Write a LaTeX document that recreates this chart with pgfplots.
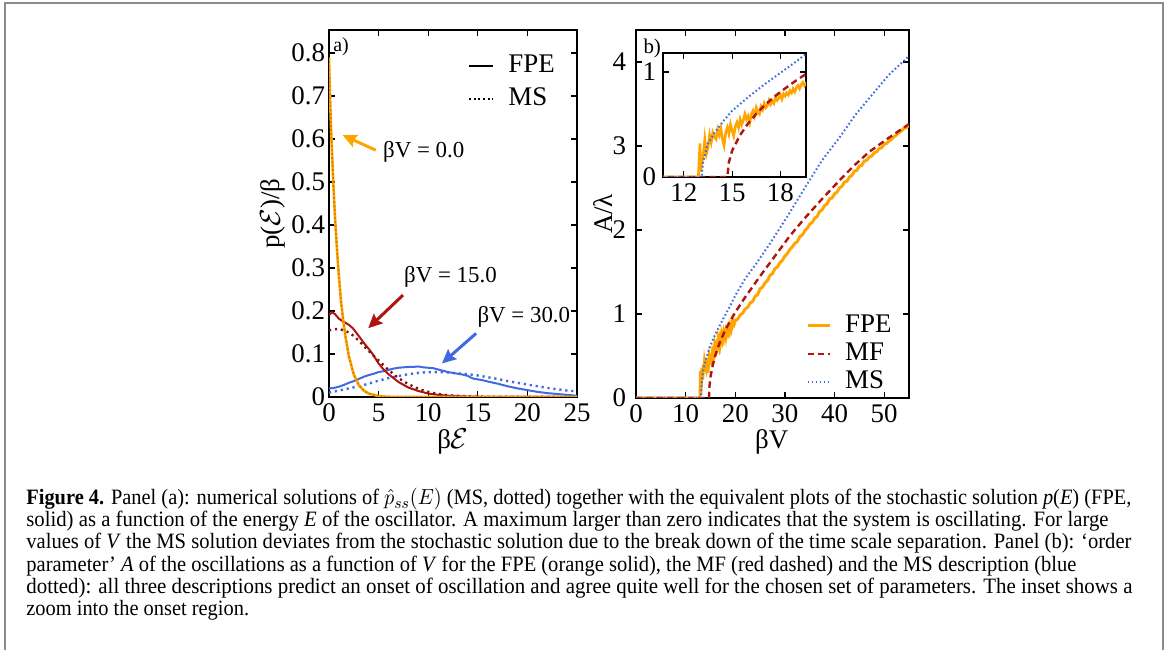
\documentclass[border=0pt]{standalone}
\usepackage{pgfplots}
\pgfplotsset{compat=1.18}
\usepackage{pgfplotstable}
\usepackage{graphicx}
\usepackage{fontspec}
\setmainfont{Liberation Serif}
\usetikzlibrary{arrows.meta}
\definecolor{cOr}{RGB}{255,165,0}
\definecolor{cOrD}{RGB}{205,125,0}
\definecolor{cRed}{RGB}{175,20,15}
\definecolor{cRedD}{RGB}{125,20,20}
\definecolor{cBlue}{RGB}{65,105,225}
\definecolor{cFrame}{RGB}{140,140,140}
\newcommand\tickfont{\fontsize{13.5}{15}\selectfont}
\newcommand\labfont{\fontsize{13.5}{15}\selectfont}
\newcommand\legfont{\fontsize{13.5}{15}\selectfont}
\newcommand\annfont{\fontsize{11.5}{13}\selectfont}
\newcommand\capfont{\fontsize{11}{12}\selectfont}
\newlength\capw
\def\capA{\textbf{Figure 4.} Panel (a): numerical solutions of $\hat{p}_{ss}(E)$ (MS, dotted) together with the equivalent plots of the stochastic solution \textit{p}(\textit{E}) (FPE,}
\def\capB{solid) as a function of the energy \textit{E} of the oscillator. A maximum larger than zero indicates that the system is oscillating. For large}
\def\capC{values of \textit{V} the MS solution deviates from the stochastic solution due to the break down of the time scale separation. Panel (b): ‘order}
\def\capD{parameter’ \textit{A} of the oscillations as a function of \textit{V} for the FPE (orange solid), the MF (red dashed) and the MS description (blue}
\def\capE{dotted): all three descriptions predict an onset of oscillation and agree quite well for the chosen set of parameters. The inset shows a}
\def\capF{zoom into the onset region.}

\pgfplotstableread{
V A
0 0
12.9 0
13.0 0.32
13.05 0.05
13.1 0.12
13.2 0.2
13.3 0.36
13.4 0.22
13.5 0.28
13.6 0.4
13.7 0.33
13.8 0.42
13.9 0.38
14.0 0.36
14.1 0.45
14.2 0.4
14.3 0.46
14.4 0.36
14.5 0.3
14.6 0.42
14.7 0.47
14.8 0.41
14.9 0.5
15.0 0.44
15.1 0.39
15.2 0.48
15.3 0.52
15.4 0.47
15.5 0.55
15.6 0.5
15.7 0.54
15.8 0.6
15.9 0.55
16.0 0.58
16.1 0.52
16.2 0.6
16.3 0.63
16.4 0.58
16.5 0.66
16.6 0.62
16.7 0.6
16.8 0.67
16.9 0.64
17.0 0.7
17.1 0.66
17.2 0.68
17.3 0.73
17.4 0.69
17.5 0.72
17.6 0.7
17.7 0.76
17.8 0.73
17.9 0.75
18.0 0.78
18.1 0.74
18.2 0.79
18.3 0.77
18.4 0.8
18.5 0.78
18.6 0.82
18.7 0.8
18.8 0.84
18.9 0.81
19.0 0.85
19.1 0.87
19.2 0.84
19.3 0.88
19.4 0.9
19.5 0.87
19.6 0.89
19.7 0.88
19.8 0.91
19.9 0.9
20.0 0.92
20.5 0.94
21 0.99
21.5 1.01
22 1.06
22.5 1.08
23 1.13
23.5 1.15
24 1.21
24.5 1.23
25 1.3
25.5 1.32
26 1.37
26.5 1.4
27 1.46
27.5 1.48
28 1.54
28.5 1.56
29 1.61
29.5 1.64
30 1.69
30.5 1.72
31 1.77
31.5 1.8
32 1.84
32.5 1.86
33 1.92
33.5 1.94
34 1.99
34.5 2.02
35 2.07
35.5 2.09
36 2.14
36.5 2.16
37 2.22
37.5 2.24
38 2.29
38.5 2.31
39 2.37
39.5 2.38
40 2.43
40.5 2.45
41 2.5
41.5 2.52
42 2.57
42.5 2.58
43 2.63
43.5 2.65
44 2.7
44.5 2.71
45 2.76
45.5 2.77
46 2.82
46.5 2.83
47 2.87
47.5 2.88
48 2.92
48.5 2.93
49 2.97
49.5 2.98
50 3.02
50.5 3.03
51 3.06
51.5 3.08
52 3.11
52.5 3.13
53 3.16
53.5 3.18
54 3.21
54.5 3.22
55 3.25
}\fpe

\pgfplotstableread{
V A
0 0
14.7 0
14.8 0.14
15 0.25
15.5 0.4
16 0.51
16.5 0.6
17 0.68
18 0.81
19 0.92
20 1.02
22 1.2
25 1.45
28 1.69
31 1.93
34 2.14
37.5 2.37
41 2.59
44 2.77
47 2.93
51 3.1
55 3.26
}\mf

\pgfplotstableread{
V A
0 0
13.1 0
13.2 0.15
13.5 0.32
14 0.44
14.5 0.54
15 0.63
16 0.76
17 0.88
18 0.99
19 1.1
20 1.22
22 1.42
24 1.58
27 1.84
30.7 2.18
34 2.5
37.5 2.83
41 3.1
44.2 3.37
48 3.64
51 3.85
55 4.07
}\ms

\pgfplotsset{
 myax/.style={scale only axis, axis line style={line width=0.75bp}, every tick/.style={line width=0.6bp,black}, major tick length=3bp, tick align=inside, tick label style={font=\tickfont}, /pgf/number format/assume math mode=true, label style={font=\labfont}, clip=true},
}

\begin{document}
\settowidth{\capw}{\capfont\capA}%
\pgfmathsetmacro{\capscale}{554.57/\capw}%
\begin{tikzpicture}
\useasboundingbox (0,0) rectangle (584bp,325bp);
% frame
\draw[cFrame, line width=1bp] (2.5bp,-2bp) -- (2.5bp,323.5bp) -- (581.5bp,323.5bp) -- (581.5bp,-2bp);

% ---------- panel a ----------
\begin{axis}[myax, at={(164.5bp,126.5bp)}, anchor=south west, width=124bp, height=183.5bp,
 xmin=0, xmax=25, ymin=0, ymax=0.8535,
 xtick={0,5,10,15,20,25}, ytick={0,0.1,0.2,0.3,0.4,0.5,0.6,0.7,0.8},
 yticklabels={0,0.1,0.2,0.3,0.4,0.5,0.6,0.7,0.8},
 yticklabel style={xshift=1.5bp},
 xlabel={β$\mathcal{E}$}, ylabel={p($\mathcal{E}$)/β},
 xlabel style={at={(axis description cs:0.5,-0.122)}, anchor=center},
 ylabel style={at={(axis description cs:-0.226,0.5)}, anchor=center},
 legend style={at={(rel axis cs:0.535,0.95)}, anchor=north west, draw=none, fill=none, font=\legfont, row sep=3bp, column sep=6bp, nodes={inner sep=1bp, text height=9bp, text depth=2.5bp}},
 legend cell align=left,
 legend image code/.code={\draw[#1] (0bp,0bp) -- (12bp,0bp);},
]
\addlegendimage{black, line width=1.2bp}
\addlegendentry{FPE}
\addlegendimage{black, line width=1.1bp, dash pattern=on 1bp off 1.3bp}
\addlegendentry{MS}

% beta V = 30
\addplot[forget plot, cBlue, line width=1bp] coordinates {(0,0.02)(0.5,0.021)(1,0.024)(1.5,0.028)(2,0.033)(2.5,0.037)(3,0.042)(3.5,0.047)(4,0.051)(4.5,0.054)(5,0.058)(5.5,0.06)(6,0.063)(6.5,0.066)(7,0.068)(7.5,0.069)(8,0.07)(8.5,0.07)(9,0.071)(9.5,0.069)(10,0.068)(10.5,0.067)(11,0.064)(11.5,0.061)(12,0.058)(12.5,0.056)(13,0.054)(13.5,0.052)(14,0.049)(14.5,0.043)(15,0.041)(15.5,0.039)(16,0.036)(17,0.031)(18,0.025)(19,0.02)(20,0.016)(21,0.012)(22,0.009)(23,0.007)(24,0.005)(25,0.003)};
\addplot[forget plot, cBlue, line width=1.2bp, dash pattern=on 1.1bp off 1.9bp] coordinates {(0,0.01)(1,0.015)(2,0.02)(3,0.025)(4,0.031)(5,0.038)(6,0.044)(7,0.049)(8,0.053)(9,0.056)(10,0.058)(11,0.058)(12,0.057)(13,0.055)(14,0.053)(15,0.05)(16,0.046)(17,0.042)(18,0.037)(19,0.033)(20,0.029)(21,0.025)(22,0.021)(23,0.018)(24,0.015)(25,0.013)};
% beta V = 15
\addplot[forget plot, cRed, line width=1bp] coordinates {(0,0.19)(0.3,0.197)(0.6,0.193)(1.0,0.182)(1.4,0.176)(2.0,0.168)(2.4,0.16)(3.0,0.142)(3.5,0.126)(4.0,0.112)(4.4,0.1)(5.0,0.078)(5.5,0.064)(6.0,0.053)(7.0,0.035)(8.0,0.022)(9.0,0.014)(10,0.008)(11,0.005)(12,0.003)(14,0.001)(16,0.0003)(25,0)};
\addplot[forget plot, cRedD, line width=1.2bp, dash pattern=on 1.1bp off 1.9bp] coordinates {(0,0.155)(0.5,0.158)(1.0,0.158)(1.5,0.155)(2.0,0.15)(2.5,0.142)(3.0,0.131)(3.5,0.119)(4.0,0.107)(4.5,0.096)(5.0,0.085)(5.5,0.074)(6.0,0.063)(7.0,0.044)(8.0,0.03)(9.0,0.019)(10,0.012)(11,0.007)(12,0.004)(14,0.0015)(16,0.0005)(25,0)};
% beta V = 0
\addplot[forget plot, cOr, line width=1.3bp] coordinates {(0,0.79)(0.05,0.74)(0.1,0.70)(0.2,0.63)(0.3,0.57)(0.45,0.49)(0.6,0.42)(0.8,0.345)(1.0,0.28)(1.2,0.225)(1.45,0.175)(1.7,0.135)(2.0,0.095)(2.5,0.052)(3.0,0.028)(3.5,0.015)(4.0,0.008)(5,0.002)(6,0.0005)(8,0)(25,0)};
\addplot[forget plot, cOrD, line width=0.8bp, dash pattern=on 0.8bp off 1.2bp] coordinates {(0,0.79)(0.05,0.74)(0.1,0.70)(0.2,0.63)(0.3,0.57)(0.45,0.49)(0.6,0.42)(0.8,0.345)(1.0,0.28)(1.2,0.225)(1.45,0.175)(1.7,0.135)(2.0,0.095)(2.5,0.052)(3.0,0.028)(3.5,0.015)(4.0,0.008)(5,0.002)(6,0.0005)(8,0)(25,0)};

% annotations
\draw[cOr, line width=1.5bp, -{Stealth[length=7bp,width=6.5bp,inset=1bp]}] (axis cs:4.72,0.574) -- (axis cs:1.37,0.609);
\draw[cRed, line width=1.5bp, -{Stealth[length=7bp,width=6.5bp,inset=1bp]}] (axis cs:7.46,0.237) -- (axis cs:3.95,0.160);
\draw[cBlue, line width=1.5bp, -{Stealth[length=7bp,width=6.5bp,inset=1bp]}] (axis cs:14.83,0.148) -- (axis cs:11.38,0.078);
\node[anchor=west, inner sep=0, font=\annfont] at (axis cs:5.42,0.570) {βV = 0.0};
\node[anchor=west, inner sep=0, font=\annfont] at (axis cs:7.53,0.280) {βV = 15.0};
\node[anchor=west, inner sep=0, font=\annfont] at (axis cs:14.93,0.187) {βV = 30.0};
\node[anchor=north west, inner sep=0, font=\fontsize{10}{12}\selectfont] at (rel axis cs:0.016,0.981) {a)};
\end{axis}

% ---------- panel b ----------
\begin{axis}[myax, at={(318bp,126bp)}, anchor=south west, width=136.5bp, height=184bp,
 xmin=0, xmax=55, ymin=0, ymax=4.38,
 xtick={0,10,20,30,40,50}, ytick={0,1,2,3,4},
 yticklabel style={xshift=-1.5bp},
 xlabel={βV}, ylabel={A/λ},
 xlabel style={at={(axis description cs:0.497,-0.119)}, anchor=center},
 ylabel style={at={(axis description cs:-0.12,0.5)}, anchor=center},
 legend style={at={(rel axis cs:0.60,0.245)}, anchor=north west, draw=none, fill=none, font=\legfont, row sep=0.5bp, column sep=6bp, nodes={inner sep=1bp, text height=9bp, text depth=2.5bp}},
 legend cell align=left,
 legend image code/.code={\draw[#1] (0bp,0bp) -- (11bp,0bp);},
]
\addplot[cOr, line width=1.5bp] table[x=V,y=A] {\fpe};
\addlegendentry{FPE}
\addplot[cRed, line width=1.2bp, dash pattern=on 3.2bp off 2bp] table[x=V,y=A] {\mf};
\addlegendentry{MF}
\addplot[cBlue, line width=1bp, dash pattern=on 0.8bp off 1.2bp] table[x=V,y=A] {\ms};
\addlegendentry{MS}
\node[anchor=north west, inner sep=0, font=\fontsize{10.5}{12}\selectfont] at (rel axis cs:0.026,0.978) {b)};
\end{axis}

% ---------- inset ----------
\begin{axis}[myax, at={(331.5bp,236.5bp)}, anchor=south west, width=71.5bp, height=62bp,
 xmin=10.7, xmax=19.6, ymin=0, ymax=1.18,
 xtick={12,15,18}, ytick={0,1},
 axis background/.style={fill=white},
]
\addplot[cOr, line width=1.3bp] table[x=V,y=A] {\fpe};
\addplot[cRed, line width=1.2bp, dash pattern=on 3.2bp off 2bp] table[x=V,y=A] {\mf};
\addplot[cBlue, line width=1bp, dash pattern=on 0.8bp off 1.2bp] table[x=V,y=A] {\ms};
\end{axis}

% ---------- caption ----------
\node[anchor=base west, inner sep=0] at (13bp,72.5bp) {\resizebox{552.5bp}{\height}{\capfont\capA}};
\node[anchor=base west, inner sep=0] at (13bp,61.5bp) {\resizebox{541bp}{\height}{\capfont\capB}};
\node[anchor=base west, inner sep=0] at (13bp,50.5bp) {\resizebox{552.5bp}{\height}{\capfont\capC}};
\node[anchor=base west, inner sep=0] at (13bp,39.5bp) {\resizebox{525bp}{\height}{\capfont\capD}};
\node[anchor=base west, inner sep=0] at (13bp,28.5bp) {\resizebox{553bp}{\height}{\capfont\capE}};
\node[anchor=base west, inner sep=0] at (13bp,17.5bp) {\capfont\scalebox{\capscale}[1]{\capF}};
\end{tikzpicture}
\end{document}
